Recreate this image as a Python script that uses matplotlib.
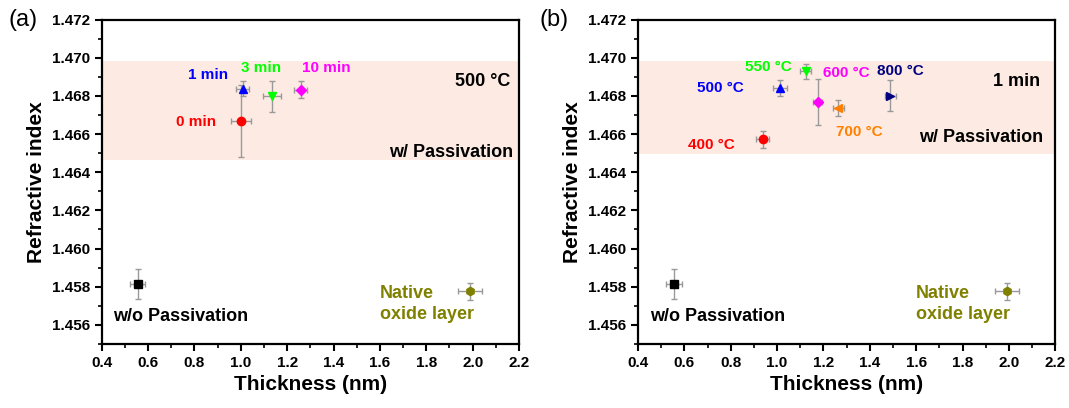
import numpy as np
import matplotlib
matplotlib.use('Agg')
from matplotlib import pyplot as plt
from matplotlib.ticker import MultipleLocator, FormatStrFormatter

plt.rcParams['font.family'] = ['Liberation Sans', 'DejaVu Sans']
plt.rcParams['font.weight'] = 'bold'

# panel (a): anneal time at 500 C
a_labels = ['0 min', '1 min', '3 min', '10 min']
a_x = [1.001, 1.008, 1.133, 1.258]
a_y = [1.46668, 1.46838, 1.46798, 1.46833]
a_xerr = [0.045, 0.027, 0.039, 0.029]
a_yerr = [0.0019, 0.0004, 0.0008, 0.00043]
a_colors = ['#ff0000', '#0000ff', '#00ff00', '#ff00ff']
a_markers = ['o', '^', 'v', 'D']

# panel (b): anneal temperature for 1 min
b_labels = ['400 °C', '500 °C', '550 °C', '600 °C', '700 °C', '800 °C']
b_x = [0.938, 1.013, 1.123, 1.175, 1.264, 1.488]
b_y = [1.46572, 1.46842, 1.46928, 1.46769, 1.46738, 1.46802]
b_xerr = [0.027, 0.029, 0.025, 0.02, 0.025, 0.023]
b_yerr = [0.00046, 0.0004, 0.0004, 0.00122, 0.00043, 0.0008]
b_colors = ['#ff0000', '#0000ff', '#00ff00', '#ff00ff', '#ff8000', '#000080']
b_markers = ['o', '^', 'v', 'D', '<', '>']

# references
ref_x = [0.555, 1.99]
ref_y = [1.45814, 1.45777]
ref_xerr = [0.034, 0.052]
ref_yerr = [0.0008, 0.00045]
ref_colors = ['#000000', '#808000']
ref_markers = ['s', 'h']

fig = plt.figure(figsize=(10.69, 4.08), dpi=100)
axa = fig.add_axes([0.0951, 0.157, 0.3904, 0.795])
axb = fig.add_axes([0.5968, 0.157, 0.3904, 0.795])


def base(ax, band):
    ax.axhspan(band[0], band[1], color='#fdebe3', zorder=0, lw=0)
    for i in range(2):
        ax.errorbar(ref_x[i], ref_y[i], xerr=ref_xerr[i], yerr=ref_yerr[i],
                    fmt=ref_markers[i], color=ref_colors[i], ms=6,
                    ecolor='#999999', elinewidth=1, capsize=2.5, capthick=1)
    ax.set_xlim(0.4, 2.2)
    ax.set_ylim(1.455, 1.472)
    ax.xaxis.set_major_locator(MultipleLocator(0.2))
    ax.xaxis.set_minor_locator(MultipleLocator(0.1))
    ax.yaxis.set_minor_locator(MultipleLocator(0.001))
    ax.set_yticks(np.arange(1.456, 1.4721, 0.002))
    ax.yaxis.set_major_formatter(FormatStrFormatter('%.3f'))
    ax.xaxis.set_major_formatter(FormatStrFormatter('%.1f'))
    ax.tick_params(which='major', length=5, width=1.5, labelsize=11)
    ax.tick_params(which='minor', length=3, width=1.2)
    for s in ax.spines.values():
        s.set_linewidth(1.6)
    ax.set_xlabel('Thickness (nm)', fontsize=15, fontweight='bold')
    ax.set_ylabel('Refractive index', fontsize=15, fontweight='bold')
    ax.text(0.45, 1.45645, 'w/o Passivation', fontsize=13, fontweight='bold', va='center')
    ax.text(1.6, 1.4571, 'Native\noxide layer', fontsize=13, fontweight='bold',
            color='#808000', va='center', linespacing=1.35)


base(axa, (1.46466, 1.46985))
base(axb, (1.46497, 1.46985))

for i in range(4):
    axa.errorbar(a_x[i], a_y[i], xerr=a_xerr[i], yerr=a_yerr[i], fmt=a_markers[i],
                 color=a_colors[i], ms=6 if a_markers[i] != 'D' else 5,
                 ecolor='#999999', elinewidth=1, capsize=2.5, capthick=1)
a_tx = [0.807, 0.859, 1.087, 1.368]
a_ty = [1.46661, 1.46911, 1.46947, 1.46947]
for i in range(4):
    axa.text(a_tx[i], a_ty[i], a_labels[i], color=a_colors[i], fontsize=11,
             fontweight='bold', va='center', ha='center')
axa.text(2.162, 1.46874, '500 °C', fontsize=13, fontweight='bold', ha='right', va='center')
axa.text(2.174, 1.46505, 'w/ Passivation', fontsize=13, fontweight='bold', ha='right', va='center')

for i in range(6):
    axb.errorbar(b_x[i], b_y[i], xerr=b_xerr[i], yerr=b_yerr[i], fmt=b_markers[i],
                 color=b_colors[i], ms=6 if b_markers[i] != 'D' else 5,
                 ecolor='#999999', elinewidth=1, capsize=2.5, capthick=1)
b_tx = [0.715, 0.754, 0.961, 1.297, 1.353, 1.530]
b_ty = [1.46541, 1.46843, 1.46954, 1.4692, 1.46609, 1.46928]
for i in range(6):
    axb.text(b_tx[i], b_ty[i], b_labels[i], color=b_colors[i], fontsize=11,
             fontweight='bold', va='center', ha='center')
axb.text(2.134, 1.46874, '1 min', fontsize=13, fontweight='bold', ha='right', va='center')
axb.text(2.147, 1.46583, 'w/ Passivation', fontsize=13, fontweight='bold', ha='right', va='center')

fig.text(0.008, 0.95, '(a)', fontsize=17, fontweight='normal', va='center')
fig.text(0.505, 0.95, '(b)', fontsize=17, fontweight='normal', va='center')

fig.savefig('out.png', dpi=100)
